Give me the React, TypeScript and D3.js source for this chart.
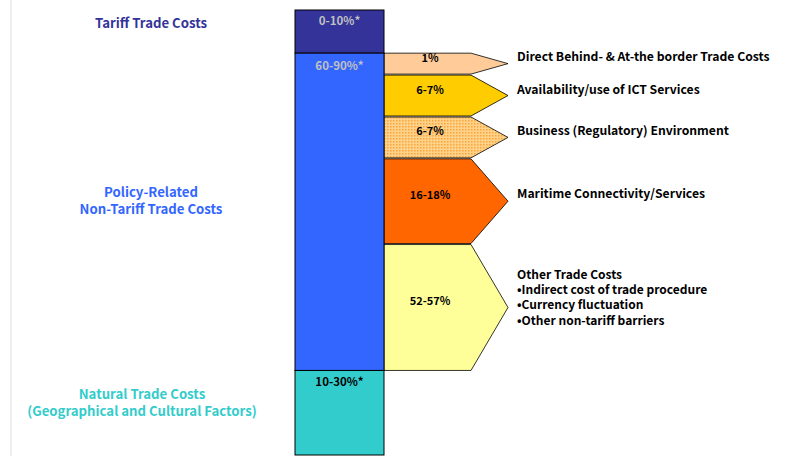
import React from "react";
import * as d3 from "d3";

// main stacked bar (share of total height)
const mainNames = ["Tariff Trade Costs", "Policy-Related\nNon-Tariff Trade Costs", "Natural Trade Costs\n(Geographical and Cultural Factors)"];
const mainRanges = ["0-10%*", "60-90%*", "10-30%*"];
const mainShares = [9.7, 71.3, 19.0];
const mainColors = ["#333399", "#3366FF", "#33CCCC"];
const mainNameColors = ["#333399", "#3366FF", "#33CCCC"];
const mainRangeColors = ["#C0C0C0", "#C0C0C0", "#000000"];

// breakdown of policy-related costs
const subNames = [
  ["Direct Behind- & At-the border Trade Costs"],
  ["Availability/use of ICT Services"],
  ["Business (Regulatory) Environment"],
  ["Maritime Connectivity/Services"],
  ["Other Trade Costs", "•Indirect cost of trade procedure", "•Currency fluctuation", "•Other non-tariff barriers"],
];
const subRanges = ["1%", "6-7%", "6-7%", "16-18%", "52-57%"];
const subShares = [6.6, 13.2, 13.2, 27.0, 40.0];
const subColors = ["#FFCC99", "#FFCC00", "url(#dots)", "#FF6600", "#FFFF99"];

const W = 811;
const H = 456;
const FONT = "'Noto Sans CJK KR', 'Noto Sans', sans-serif";

export default function App() {
  const barX0 = 295;
  const barX1 = 384;
  const bodyX = 471;
  const tipX = 508;

  const total = d3.sum(mainShares);
  const y = d3.scaleLinear().domain([0, total]).range([10, 455]);
  const mainStarts = d3.cumsum([0, ...mainShares]);

  const policyTop = y(mainStarts[1]);
  const policyBottom = y(mainStarts[2]);
  const subTotal = d3.sum(subShares);
  const ys = d3.scaleLinear().domain([0, subTotal]).range([policyTop, policyBottom]);
  const subStarts = d3.cumsum([0, ...subShares]);

  const nameY = [24, 193, 395];
  const nameX = [151, 151, 142];
  const rangeOff = [12, 14, 12];

  return (
    <div style={{ position: "fixed", left: 0, top: 0 }}>
      <svg width={W} height={H} style={{ display: "block", background: "#fff" }} fontFamily={FONT}>
        <defs>
          <pattern id="dots" width="3" height="3" patternUnits="userSpaceOnUse">
            <rect width="3" height="3" fill="#FFD28A" />
            <rect width="1.5" height="1.5" fill="#F9A53A" />
          </pattern>
        </defs>
        <line x1={11} x2={11} y1={0} y2={H} stroke="#DDDDDD" />

        {/* arrows */}
        {subShares.map((s, i) => {
          const t = ys(subStarts[i]) + (i === 0 ? 0 : 1);
          const b = ys(subStarts[i + 1]);
          const m = (t + b) / 2;
          const path = d3.path();
          path.moveTo(barX1, t);
          path.lineTo(bodyX, t);
          path.lineTo(tipX, m);
          path.lineTo(bodyX, b);
          path.lineTo(barX1, b);
          path.closePath();
          const labelY = i === 0 ? t + 6 : m - 5;
          const nameStart = i === 4 ? 276 : i === 0 ? t + 5 : i === 3 ? m - 6 : m - 5;
          const multi = subNames[i].length > 1;
          return (
            <g key={i}>
              <path d={path.toString()} fill={subColors[i]} stroke="#000" strokeWidth={0.8} />
              <text x={430} y={labelY} textAnchor="middle" dominantBaseline="middle" fontSize={11} fontWeight="bold" fill="#000">
                {subRanges[i]}
              </text>
              <text x={517} y={nameStart} dominantBaseline="middle" fontSize={multi ? 12 : 12.2} fontWeight="bold" fill="#000">
                {subNames[i].map((line, j) => (
                  <tspan key={j} x={517} y={nameStart + j * 15.2}>
                    {line}
                  </tspan>
                ))}
              </text>
            </g>
          );
        })}

        {/* main bar */}
        {mainShares.map((s, i) => {
          const t = y(mainStarts[i]);
          const b = y(mainStarts[i + 1]);
          return (
            <g key={i}>
              <rect x={barX0} y={t} width={barX1 - barX0} height={b - t} fill={mainColors[i]} stroke="#000" strokeWidth={1} />
              <text x={(barX0 + barX1) / 2} y={t + rangeOff[i]} textAnchor="middle" dominantBaseline="middle" fontSize={11.5} fontWeight="bold" fill={mainRangeColors[i]}>
                {mainRanges[i]}
              </text>
              <text x={nameX[i]} y={nameY[i]} textAnchor="middle" dominantBaseline="middle" fontSize={13.2} fontWeight="bold" fill={mainNameColors[i]}>
                {mainNames[i].split("\n").map((line, j) => (
                  <tspan key={j} x={nameX[i]} y={nameY[i] + j * 16.5}>
                    {line}
                  </tspan>
                ))}
              </text>
            </g>
          );
        })}
      </svg>
    </div>
  );
}
